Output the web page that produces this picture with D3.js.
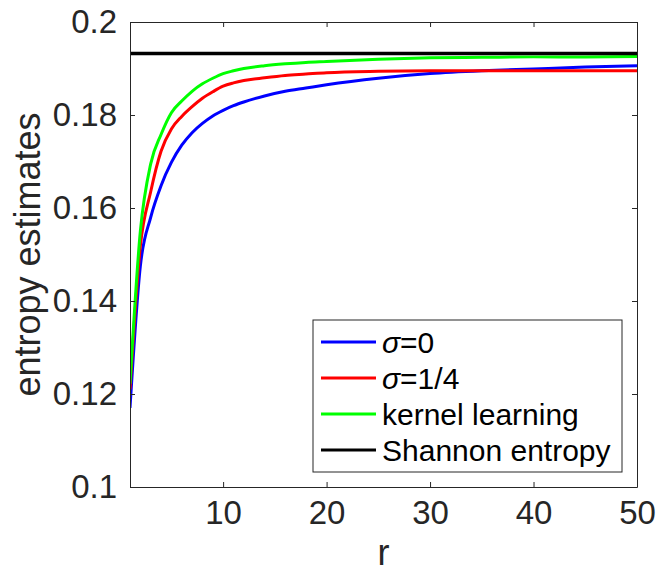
<!DOCTYPE html>
<html>
<head>
<meta charset="utf-8">
<script src="https://cdn.jsdelivr.net/npm/d3@7"></script>
<style>
  body { margin: 0; background: #fff; }
  svg text { font-family: "Liberation Sans", Arial, Helvetica, sans-serif; }
</style>
</head>
<body>
<div id="chart"></div>
<script>
"use strict";

var rValues = [1, 2, 3, 4, 5, 6, 7, 8, 9, 10, 11, 12, 14, 16, 18, 20, 25, 30, 35, 40, 45, 50];

var sigma0 = [0.1170, 0.1475, 0.1580, 0.1648, 0.1698, 0.1735, 0.1762, 0.1782, 0.1798, 0.1810, 0.1820, 0.1828,
              0.1841, 0.1851, 0.1858, 0.1865, 0.1879, 0.1889, 0.1895, 0.1899, 0.1903, 0.1906];
var sigmaQuarter = [0.1210, 0.1518, 0.1635, 0.1722, 0.1770, 0.1797, 0.1818, 0.1836, 0.1850, 0.1862, 0.1869, 0.1874,
                    0.1880, 0.1885, 0.1888, 0.1891, 0.1894, 0.1895, 0.1895, 0.1895, 0.1895, 0.1895];
var kernelLearning = [0.1222, 0.1550, 0.1695, 0.1758, 0.1805, 0.1830, 0.1851, 0.1867, 0.1879, 0.1889, 0.1895, 0.1900,
                      0.1906, 0.1910, 0.1913, 0.1915, 0.1920, 0.1923, 0.1924, 0.1925, 0.1925, 0.1926];
var shannon = 0.1932;

var xTicks = [10, 20, 30, 40, 50];
var yTicks = [0.1, 0.12, 0.14, 0.16, 0.18, 0.2];

var series = [
        { name: "sigma0", label: ["\u03c3", "=0"], values: sigma0, color: "#0000ff" },
        { name: "sigmaQuarter", label: ["\u03c3", "=1/4"], values: sigmaQuarter, color: "#ff0000" },
        { name: "kernel", label: [null, "kernel learning"], values: kernelLearning, color: "#00ff00" },
        { name: "shannon", label: [null, "Shannon entropy"], values: rValues.map(function () { return shannon; }), color: "#000000" }
];

var width = 656, height = 574;
var margin = { top: 22, right: 19, bottom: 87, left: 130 };
var innerW = width - margin.left - margin.right,
        innerH = height - margin.top - margin.bottom;

var svg = d3.select("#chart")
        .append("svg")
        .attr("width", width)
        .attr("height", height);

var g = svg.append("g")
        .attr("transform", "translate(" + margin.left + "," + margin.top + ")");

var x = d3.scaleLinear().domain([1, 50]).range([0, innerW]);
var y = d3.scaleLinear().domain([0.1, 0.2]).range([innerH, 0]);

var axisColor = "#262626";
var tickLen = 5;

g.append("clipPath").attr("id", "plotclip")
        .append("rect").attr("width", innerW).attr("height", innerH);

// lines
var line = d3.line()
        .x(function (d) { return x(d[0]); })
        .y(function (d) { return y(d[1]); })
        .curve(d3.curveMonotoneX);

series.forEach(function (s) {
        g.append("path")
                .datum(rValues.map(function (r, i) { return [r, s.values[i]]; }))
                .attr("clip-path", "url(#plotclip)")
                .attr("fill", "none")
                .attr("stroke", s.color)
                .attr("stroke-width", s.name == "shannon" ? 3.5 : 3)
                .attr("d", line);
});

// axes (ticks inside, box on)
var xAxis = g.append("g")
        .attr("transform", "translate(0," + innerH + ")")
        .call(d3.axisBottom(x).tickValues(xTicks).tickSizeInner(-tickLen).tickSizeOuter(0).tickPadding(14));
var xAxisTop = g.append("g")
        .call(d3.axisTop(x).tickValues(xTicks).tickSizeInner(-tickLen).tickSizeOuter(0).tickFormat(""));
var yAxis = g.append("g")
        .call(d3.axisLeft(y).tickValues(yTicks).tickSizeInner(-tickLen).tickSizeOuter(0).tickPadding(13)
                .tickFormat(function (d) { return d3.format("")(+d.toFixed(2)); }));
var yAxisRight = g.append("g")
        .attr("transform", "translate(" + innerW + ",0)")
        .call(d3.axisRight(y).tickValues(yTicks).tickSizeInner(-tickLen).tickSizeOuter(0).tickFormat(""));

[xAxis, xAxisTop, yAxis, yAxisRight].forEach(function (a) {
        a.select(".domain").attr("stroke", axisColor).attr("stroke-width", 1);
        a.selectAll(".tick line").attr("stroke", axisColor);
        a.selectAll("text")
                .attr("fill", axisColor)
                .style("font-size", "33px");
});
xAxis.selectAll("text").attr("dy", "0.71em");

// axis labels
svg.append("text")
        .attr("x", margin.left + innerW / 2)
        .attr("y", 565)
        .attr("text-anchor", "middle")
        .attr("fill", axisColor)
        .style("font-size", "36px")
        .text("r");

svg.append("text")
        .attr("transform", "translate(40," + (margin.top + innerH / 2) + ")rotate(-90)")
        .attr("text-anchor", "middle")
        .attr("fill", axisColor)
        .style("font-size", "36px")
        .text("entropy estimates");

// legend
var legend = svg.append("g").attr("transform", "translate(313,320)");
legend.append("rect")
        .attr("width", 309)
        .attr("height", 152)
        .attr("fill", "#fff")
        .attr("stroke", axisColor)
        .attr("stroke-width", 1);

series.forEach(function (s, i) {
        var row = legend.append("g").attr("transform", "translate(0," + (22 + i * 36) + ")");
        row.append("line")
                .attr("x1", 8).attr("x2", 63)
                .attr("stroke", s.color)
                .attr("stroke-width", 3);
        var t = row.append("text")
                .attr("x", 69)
                .attr("dy", "0.36em")
                .attr("fill", "#000")
                .style("font-size", "30px");
        if (s.label[0]) {
                t.append("tspan").style("font-style", "italic").text(s.label[0]);
        }
        t.append("tspan").text(s.label[1]);
});
</script>
</body>
</html>
